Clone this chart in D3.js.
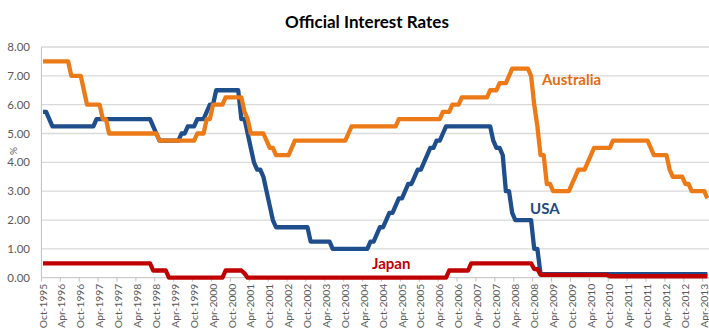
<!DOCTYPE html>
<html>
<head>
<meta charset="utf-8">
<script src="https://cdn.jsdelivr.net/npm/d3@7"></script>
<style>
  body { margin: 0; background: #fff; }
  svg { display: block; font-family: Lato, "Open Sans", sans-serif; }
</style>
</head>
<body>
<div id="chart"></div>
<script>
// month names and years used to build the monthly categories (Oct-1995 .. May-2013)
const monthNames = ["Jan","Feb","Mar","Apr","May","Jun","Jul","Aug","Sep","Oct","Nov","Dec"];
const years = [1995,1996,1997,1998,1999,2000,2001,2002,2003,2004,2005,2006,2007,2008,2009,2010,2011,2012,2013];

// axis labels shown every six months
const tickLabels = ["Oct-1995","Apr-1996","Oct-1996","Apr-1997","Oct-1997","Apr-1998","Oct-1998","Apr-1999",
  "Oct-1999","Apr-2000","Oct-2000","Apr-2001","Oct-2001","Apr-2002","Oct-2002","Apr-2003","Oct-2003",
  "Apr-2004","Oct-2004","Apr-2005","Oct-2005","Apr-2006","Oct-2006","Apr-2007","Oct-2007","Apr-2008",
  "Oct-2008","Apr-2009","Oct-2009","Apr-2010","Oct-2010","Apr-2011","Oct-2011","Apr-2012","Oct-2012","Apr-2013"];
const yTicks = [0,1,2,3,4,5,6,7,8];

// monthly rates, one row per year
const usa = [
  5.75,5.75,5.50,
  5.25,5.25,5.25,5.25,5.25,5.25,5.25,5.25,5.25,5.25,5.25,5.25,
  5.25,5.25,5.50,5.50,5.50,5.50,5.50,5.50,5.50,5.50,5.50,5.50,
  5.50,5.50,5.50,5.50,5.50,5.50,5.50,5.50,5.25,5.00,4.75,4.75,
  4.75,4.75,4.75,4.75,4.75,5.00,5.00,5.25,5.25,5.25,5.50,5.50,
  5.50,5.75,6.00,6.00,6.50,6.50,6.50,6.50,6.50,6.50,6.50,6.50,
  5.50,5.50,5.00,4.50,4.00,3.75,3.75,3.50,3.00,2.50,2.00,1.75,
  1.75,1.75,1.75,1.75,1.75,1.75,1.75,1.75,1.75,1.75,1.25,1.25,
  1.25,1.25,1.25,1.25,1.25,1.00,1.00,1.00,1.00,1.00,1.00,1.00,
  1.00,1.00,1.00,1.00,1.00,1.25,1.25,1.50,1.75,1.75,2.00,2.25,
  2.25,2.50,2.75,2.75,3.00,3.25,3.25,3.50,3.75,3.75,4.00,4.25,
  4.50,4.50,4.75,4.75,5.00,5.25,5.25,5.25,5.25,5.25,5.25,5.25,
  5.25,5.25,5.25,5.25,5.25,5.25,5.25,5.25,4.75,4.50,4.50,4.25,
  3.00,3.00,2.25,2.00,2.00,2.00,2.00,2.00,2.00,1.00,1.00,0.125,
  0.125,0.125,0.125,0.125,0.125,0.125,0.125,0.125,0.125,0.125,0.125,0.125,
  0.125,0.125,0.125,0.125,0.125,0.125,0.125,0.125,0.125,0.125,0.125,0.125,
  0.125,0.125,0.125,0.125,0.125,0.125,0.125,0.125,0.125,0.125,0.125,0.125,
  0.125,0.125,0.125,0.125,0.125,0.125,0.125,0.125,0.125,0.125,0.125,0.125,
  0.125,0.125,0.125,0.125,0.125
];

const australia = [
  7.50,7.50,7.50,
  7.50,7.50,7.50,7.50,7.50,7.50,7.00,7.00,7.00,7.00,6.50,6.00,
  6.00,6.00,6.00,6.00,5.50,5.50,5.00,5.00,5.00,5.00,5.00,5.00,
  5.00,5.00,5.00,5.00,5.00,5.00,5.00,5.00,5.00,5.00,4.75,4.75,
  4.75,4.75,4.75,4.75,4.75,4.75,4.75,4.75,4.75,4.75,5.00,5.00,
  5.00,5.50,5.50,6.00,6.00,6.00,6.00,6.25,6.25,6.25,6.25,6.25,
  6.25,5.75,5.50,5.00,5.00,5.00,5.00,5.00,4.75,4.50,4.50,4.25,
  4.25,4.25,4.25,4.25,4.50,4.75,4.75,4.75,4.75,4.75,4.75,4.75,
  4.75,4.75,4.75,4.75,4.75,4.75,4.75,4.75,4.75,4.75,5.00,5.25,
  5.25,5.25,5.25,5.25,5.25,5.25,5.25,5.25,5.25,5.25,5.25,5.25,
  5.25,5.25,5.50,5.50,5.50,5.50,5.50,5.50,5.50,5.50,5.50,5.50,
  5.50,5.50,5.50,5.50,5.75,5.75,5.75,6.00,6.00,6.00,6.25,6.25,
  6.25,6.25,6.25,6.25,6.25,6.25,6.25,6.50,6.50,6.50,6.75,6.75,
  6.75,7.00,7.25,7.25,7.25,7.25,7.25,7.25,7.00,6.00,5.25,4.25,
  4.25,3.25,3.25,3.00,3.00,3.00,3.00,3.00,3.00,3.25,3.50,3.75,
  3.75,3.75,4.00,4.25,4.50,4.50,4.50,4.50,4.50,4.50,4.75,4.75,
  4.75,4.75,4.75,4.75,4.75,4.75,4.75,4.75,4.75,4.75,4.50,4.25,
  4.25,4.25,4.25,4.25,3.75,3.50,3.50,3.50,3.50,3.25,3.25,3.00,
  3.00,3.00,3.00,3.00,2.75
];

const japan = [
  0.50,0.50,0.50,
  0.50,0.50,0.50,0.50,0.50,0.50,0.50,0.50,0.50,0.50,0.50,0.50,
  0.50,0.50,0.50,0.50,0.50,0.50,0.50,0.50,0.50,0.50,0.50,0.50,
  0.50,0.50,0.50,0.50,0.50,0.50,0.50,0.50,0.25,0.25,0.25,0.25,
  0.25,0.00,0.00,0.00,0.00,0.00,0.00,0.00,0.00,0.00,0.00,0.00,
  0.00,0.00,0.00,0.00,0.00,0.00,0.00,0.25,0.25,0.25,0.25,0.25,
  0.25,0.15,0.00,0.00,0.00,0.00,0.00,0.00,0.00,0.00,0.00,0.00,
  0.00,0.00,0.00,0.00,0.00,0.00,0.00,0.00,0.00,0.00,0.00,0.00,
  0.00,0.00,0.00,0.00,0.00,0.00,0.00,0.00,0.00,0.00,0.00,0.00,
  0.00,0.00,0.00,0.00,0.00,0.00,0.00,0.00,0.00,0.00,0.00,0.00,
  0.00,0.00,0.00,0.00,0.00,0.00,0.00,0.00,0.00,0.00,0.00,0.00,
  0.00,0.00,0.00,0.00,0.00,0.00,0.25,0.25,0.25,0.25,0.25,0.25,
  0.25,0.50,0.50,0.50,0.50,0.50,0.50,0.50,0.50,0.50,0.50,0.50,
  0.50,0.50,0.50,0.50,0.50,0.50,0.50,0.50,0.50,0.30,0.30,0.10,
  0.10,0.10,0.10,0.10,0.10,0.10,0.10,0.10,0.10,0.10,0.10,0.10,
  0.10,0.10,0.10,0.10,0.10,0.10,0.10,0.10,0.10,0.05,0.05,0.05,
  0.05,0.05,0.05,0.05,0.05,0.05,0.05,0.05,0.05,0.05,0.05,0.05,
  0.05,0.05,0.05,0.05,0.05,0.05,0.05,0.05,0.05,0.05,0.05,0.05,
  0.05,0.05,0.05,0.05,0.05
];

// build the month categories
const months = [];
years.forEach(function(yr) {
  monthNames.forEach(function(m, mi) {
    if (yr == 1995 && mi < 9) return;
    if (yr == 2013 && mi > 4) return;
    months.push(m + "-" + yr);
  });
});

const width = 709, height = 332;
const plotLeft = 41.4, plotRight = 709, plotTop = 47, plotBottom = 277.7;

const svg = d3.select("#chart").append("svg")
  .attr("width", width)
  .attr("height", height);

const x = d3.scaleBand()
  .domain(months)
  .range([plotLeft, plotRight]);

const y = d3.scaleLinear()
  .domain([0, 8])
  .range([plotBottom, plotTop]);

const cx = function(m) { return x(m) + x.bandwidth() / 2; };

// gridlines
svg.append("g")
  .selectAll("line")
  .data(yTicks.filter(d => d > 0))
  .enter().append("line")
  .attr("x1", plotLeft).attr("x2", plotRight)
  .attr("y1", d => y(d)).attr("y2", d => y(d))
  .attr("stroke", "#d9d9d9")
  .attr("stroke-width", 1.3);

// y axis labels
svg.append("g")
  .selectAll("text")
  .data(yTicks)
  .enter().append("text")
  .attr("x", 30)
  .attr("y", d => y(d))
  .attr("dy", "0.35em")
  .attr("text-anchor", "end")
  .attr("fill", "#595959")
  .style("font-size", "11.5px")
  .text(d => d3.format(".2f")(d));

svg.append("text")
  .attr("transform", "translate(17,151) rotate(-90)")
  .attr("text-anchor", "middle")
  .attr("fill", "#595959")
  .style("font-size", "10px")
  .text("%");

// axis lines
svg.append("line")
  .attr("x1", plotLeft).attr("x2", plotLeft)
  .attr("y1", plotTop).attr("y2", plotBottom)
  .attr("stroke", "#bfbfbf");

svg.append("line")
  .attr("x1", plotLeft).attr("x2", plotRight)
  .attr("y1", plotBottom).attr("y2", plotBottom)
  .attr("stroke", "#bfbfbf");

// x ticks and labels
svg.append("g")
  .selectAll("line")
  .data(tickLabels)
  .enter().append("line")
  .attr("x1", d => x(d)).attr("x2", d => x(d))
  .attr("y1", plotBottom).attr("y2", plotBottom + 4)
  .attr("stroke", "#bfbfbf");

svg.append("g")
  .selectAll("text")
  .data(tickLabels)
  .enter().append("text")
  .attr("transform", d => "translate(" + cx(d) + "," + (plotBottom + 6) + ") rotate(-90)")
  .attr("dy", "0.35em")
  .attr("text-anchor", "end")
  .attr("fill", "#595959")
  .style("font-size", "10.3px")
  .text(d => d);

// lines
const series = [
  {name: "USA", values: usa, color: "#1f4e8c"},
  {name: "Australia", values: australia, color: "#eb7a17"},
  {name: "Japan", values: japan, color: "#c00000"}
];

const line = d3.line()
  .x((d, i) => cx(months[i]))
  .y(d => y(d));

svg.append("g")
  .selectAll("path")
  .data(series)
  .enter().append("path")
  .attr("d", d => line(d.values))
  .attr("fill", "none")
  .attr("stroke", d => d.color)
  .attr("stroke-width", 4.3)
  .attr("stroke-linejoin", "round");

// series labels
svg.append("text").attr("x", 542).attr("y", 85)
  .attr("fill", "#e46c0a").style("font-size", "15px").style("font-weight", "bold")
  .text("Australia");
svg.append("text").attr("x", 530).attr("y", 214)
  .attr("fill", "#1f497d").style("font-size", "15px").style("font-weight", "bold")
  .text("USA");
svg.append("text").attr("x", 372).attr("y", 269)
  .attr("fill", "#c00000").style("font-size", "15px").style("font-weight", "bold")
  .text("Japan");

// title
svg.append("text")
  .attr("x", 367).attr("y", 28)
  .attr("text-anchor", "middle")
  .attr("fill", "#000")
  .style("font-size", "17px")
  .style("font-weight", "bold")
  .text("Official Interest Rates");
</script>
</body>
</html>
